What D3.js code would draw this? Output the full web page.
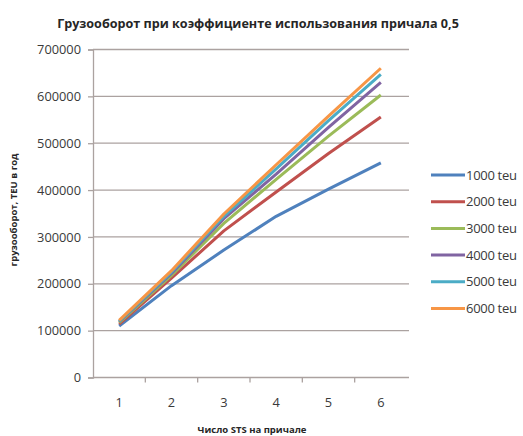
<!DOCTYPE html>
<html>
<head>
<meta charset="utf-8">
<script src="https://cdn.jsdelivr.net/npm/d3@7/dist/d3.min.js"></script>
<style>
  html, body { margin: 0; padding: 0; background: #fff; }
  svg { display: block; }
</style>
</head>
<body>
<svg id="chart" width="523" height="436"></svg>
<script>
// Number of STS cranes at the berth
const categories = [1, 2, 3, 4, 5, 6];

// Annual throughput (TEU) per vessel size
const seriesNames = ["1000 teu", "2000 teu", "3000 teu", "4000 teu", "5000 teu", "6000 teu"];
const s1000 = [110000, 196000, 272000, 344000, 402000, 458000];
const s2000 = [114000, 212000, 313000, 396000, 478000, 556000];
const s3000 = [117000, 218000, 329000, 423000, 515000, 603000];
const s4000 = [119000, 222000, 339000, 434000, 534000, 630000];
const s5000 = [120000, 225000, 344000, 445000, 548000, 647000];
const s6000 = [122000, 228000, 349000, 454000, 558000, 660000];
const seriesValues = [s1000, s2000, s3000, s4000, s5000, s6000];

const yTicks = [0, 100000, 200000, 300000, 400000, 500000, 600000, 700000];
const colors = ["#4F81BD", "#C0504D", "#9BBB59", "#8064A2", "#4BACC6", "#F79646"];

const titleText = "Грузооборот при коэффициенте использования причала 0,5";
const yTitle = "грузооборот, TEU в год";
const xTitle = "Число STS на причале";

const svg = d3.select("#chart");
const plot = { left: 93, right: 407, top: 49.5, bottom: 377.5 };

const x = d3.scaleBand().domain(categories).range([plot.left, plot.right]);
const y = d3.scaleLinear().domain([0, 700000]).range([plot.bottom, plot.top]);

const gridColor = "#aba2a0";
const textColor = "#3a3a3a";

// Title
svg.append("text")
  .attr("x", 258).attr("y", 28)
  .attr("text-anchor", "middle")
  .attr("font-family", "'Open Sans', sans-serif")
  .attr("font-weight", "bold")
  .attr("font-size", 12.6)
  .attr("fill", "#262626")
  .text(titleText);

// Horizontal gridlines
svg.append("g")
  .selectAll("line")
  .data(yTicks.filter(d => d > 0))
  .join("line")
  .attr("x1", plot.left).attr("x2", plot.right + 2)
  .attr("y1", d => y(d)).attr("y2", d => y(d))
  .attr("stroke", gridColor).attr("stroke-width", 1.3);

// Y axis
const yAxis = svg.append("g")
  .attr("transform", `translate(${plot.left},0)`)
  .call(d3.axisLeft(y).tickValues(yTicks).tickSize(5).tickPadding(7).tickFormat(d3.format("d")));
yAxis.select(".domain").attr("stroke", gridColor).attr("stroke-width", 1.3);
yAxis.selectAll(".tick line").attr("stroke", gridColor).attr("stroke-width", 1.3);
yAxis.selectAll(".tick text")
  .attr("font-family", "'Open Sans', sans-serif")
  .attr("font-size", 12.8)
  .attr("fill", textColor);

// X axis with ticks at category boundaries
const xAxisG = svg.append("g").attr("transform", `translate(0,${plot.bottom})`);
xAxisG.append("line")
  .attr("x1", plot.left).attr("x2", plot.right + 2)
  .attr("y1", 0).attr("y2", 0)
  .attr("stroke", gridColor).attr("stroke-width", 1.3);
xAxisG.selectAll("line.tick")
  .data(categories.slice(1))
  .join("line")
  .attr("class", "tick")
  .attr("x1", d => x(d)).attr("x2", d => x(d))
  .attr("y1", 0).attr("y2", 5)
  .attr("stroke", gridColor).attr("stroke-width", 1.3);
xAxisG.selectAll("text")
  .data(categories)
  .join("text")
  .attr("x", d => x(d) + x.bandwidth() / 2)
  .attr("y", 29)
  .attr("text-anchor", "middle")
  .attr("font-family", "'Open Sans', sans-serif")
  .attr("font-size", 12.8)
  .attr("fill", textColor)
  .text(d => d);

// Axis titles
svg.append("text")
  .attr("transform", "translate(17,210) rotate(-90)")
  .attr("text-anchor", "middle")
  .attr("font-family", "'Open Sans', sans-serif")
  .attr("font-weight", "bold")
  .attr("font-size", 9.5)
  .attr("fill", "#262626")
  .text(yTitle);

svg.append("text")
  .attr("x", 252).attr("y", 433)
  .attr("text-anchor", "middle")
  .attr("font-family", "'Open Sans', sans-serif")
  .attr("font-weight", "bold")
  .attr("font-size", 9.5)
  .attr("fill", "#262626")
  .text(xTitle);

// Series lines
const line = d3.line()
  .x((d, i) => x(categories[i]) + x.bandwidth() / 2)
  .y(d => y(d));

svg.append("g")
  .selectAll("path")
  .data(seriesValues)
  .join("path")
  .attr("d", d => line(d))
  .attr("fill", "none")
  .attr("stroke", (d, i) => colors[i])
  .attr("stroke-width", 3)
  .attr("stroke-linejoin", "round");

// Legend
const legend = svg.append("g")
  .selectAll("g")
  .data(seriesNames)
  .join("g")
  .attr("transform", (d, i) => `translate(431,${175 + i * 26.7})`);
legend.append("line")
  .attr("x1", 0).attr("x2", 34)
  .attr("stroke", (d, i) => colors[i])
  .attr("stroke-width", 3);
legend.append("text")
  .attr("x", 35).attr("y", 4.5)
  .attr("font-family", "'Open Sans', sans-serif")
  .attr("font-size", 13)
  .attr("letter-spacing", -0.3)
  .attr("fill", textColor)
  .text(d => d);
</script>
</body>
</html>
